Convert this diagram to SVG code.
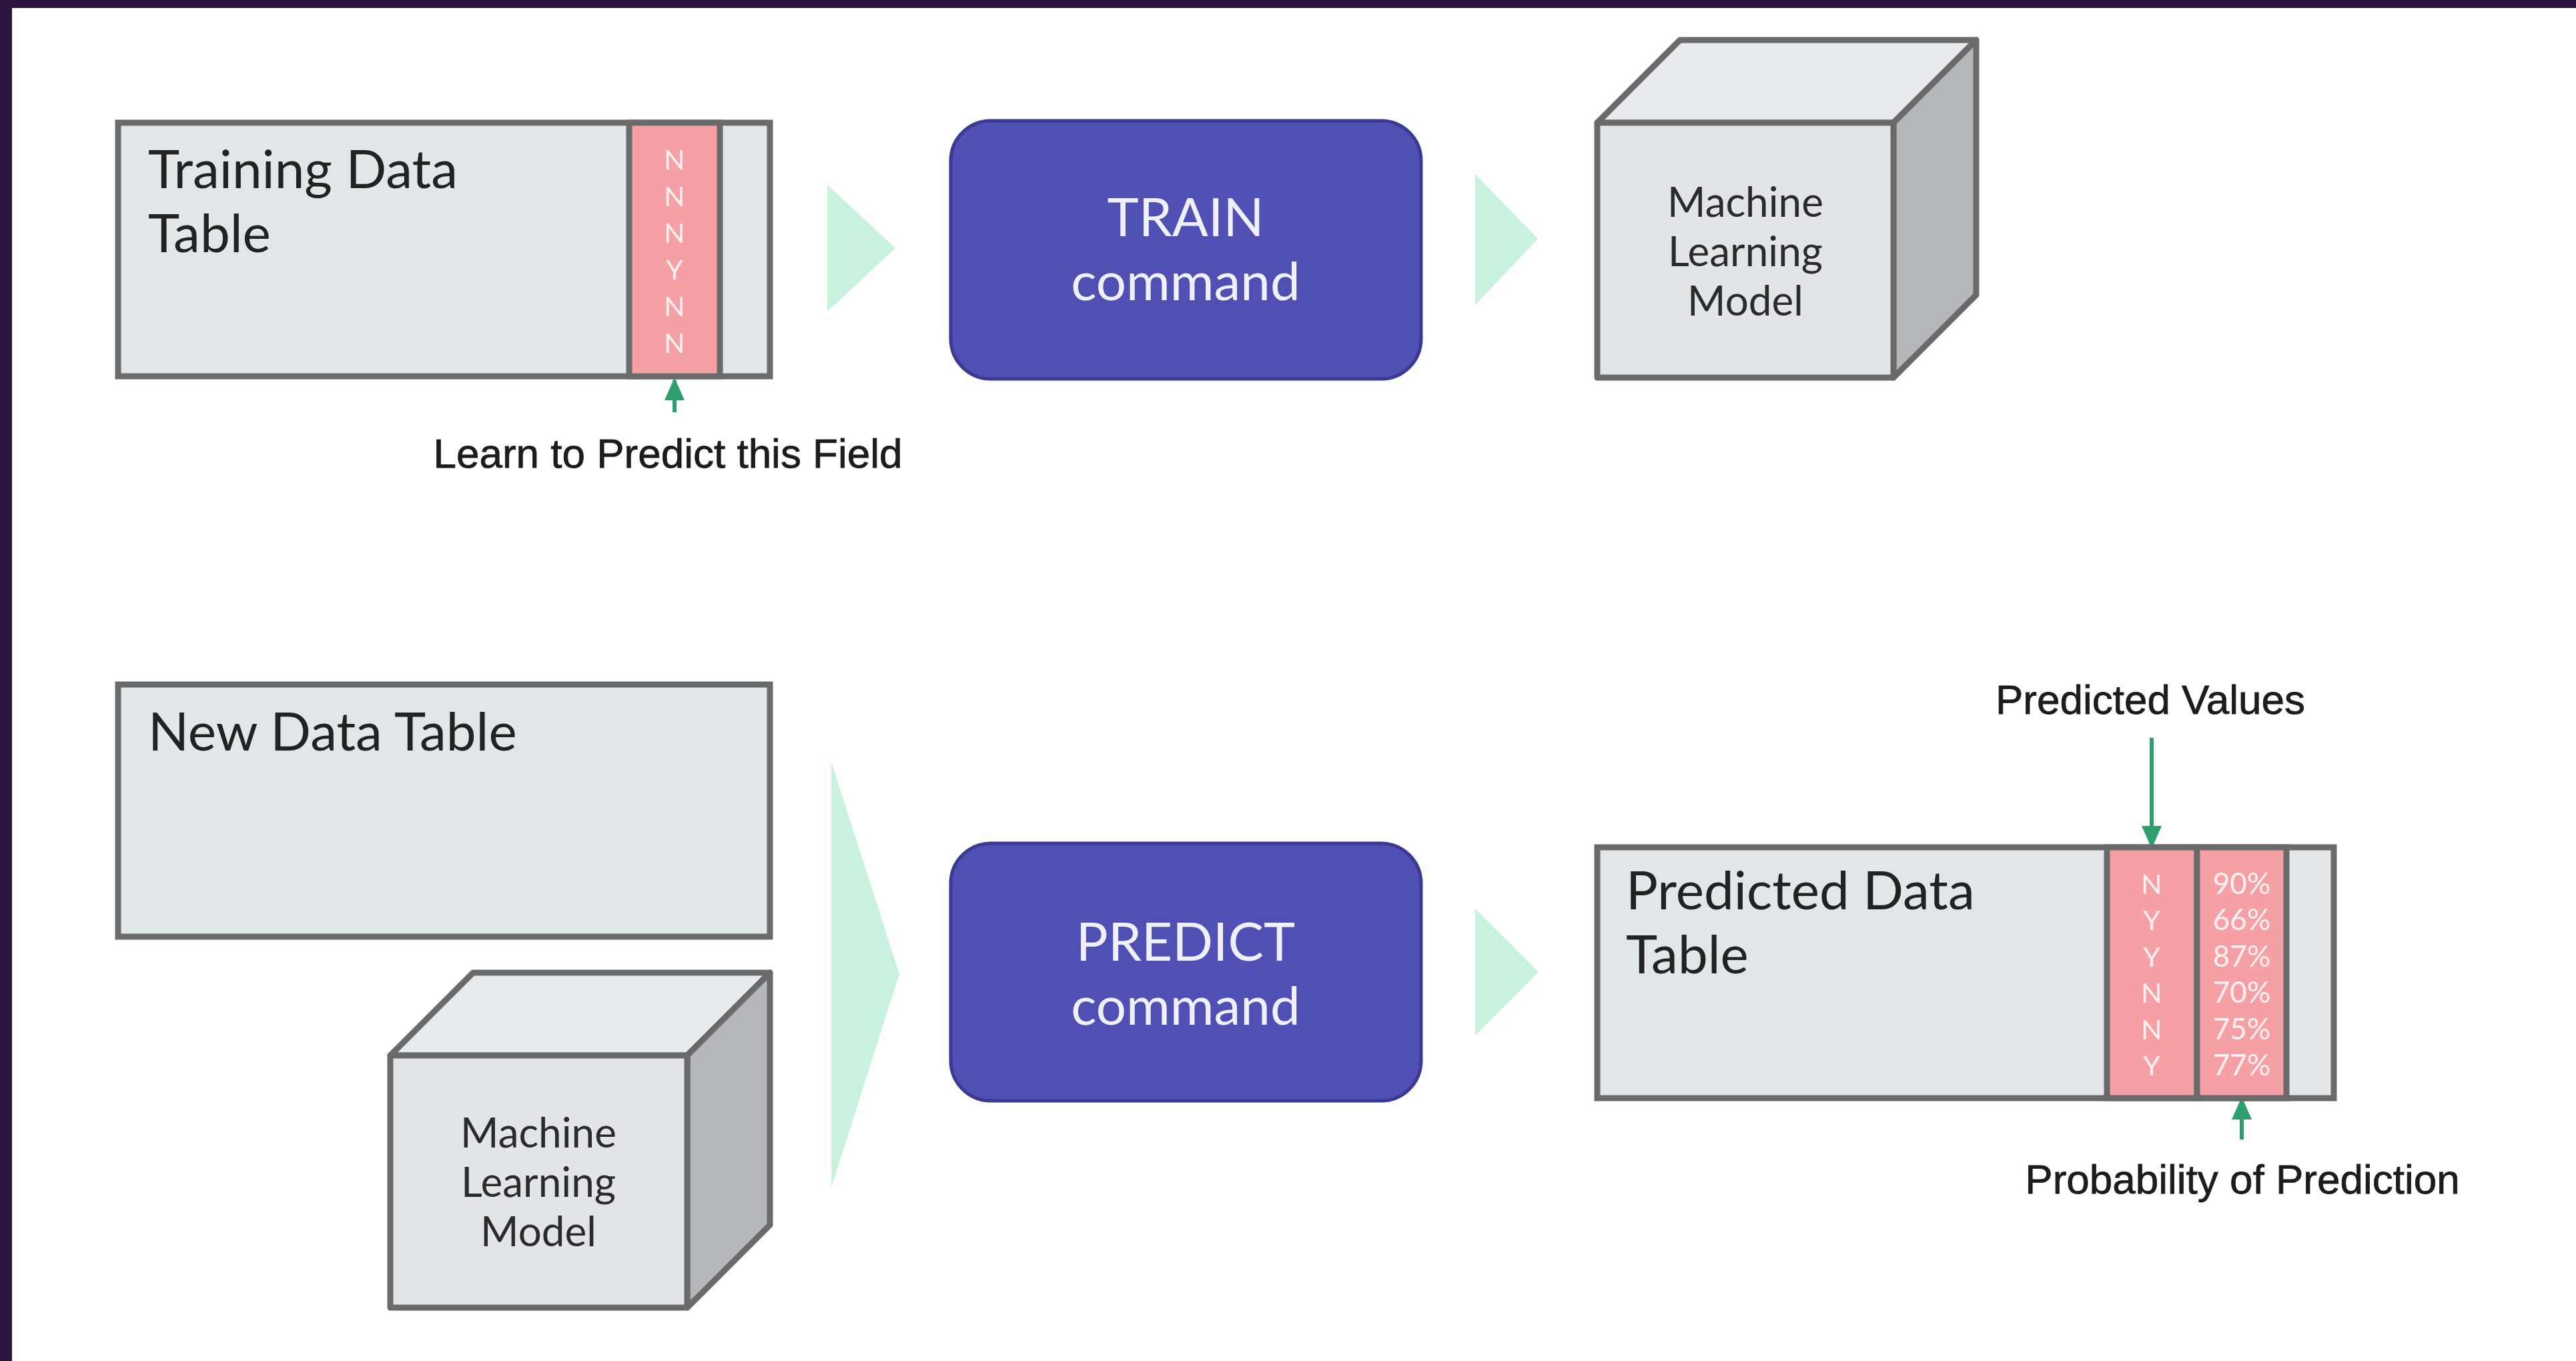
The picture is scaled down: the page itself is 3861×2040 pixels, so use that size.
<svg xmlns="http://www.w3.org/2000/svg" width="3861" height="2040" viewBox="0 0 3861 2040">
  <style>
    .tbl{fill:#e1e6e9;stroke:#6a6a6a;stroke-width:9}
    .col{fill:#f4a0a5;stroke:#6a6a6a;stroke-width:9}
    .title{font-family:Lato,"Noto Sans",sans-serif;font-size:80px;fill:#222}
    .cmd{fill:#4f4fb4;stroke:#3a3a92;stroke-width:5}
    .cmdtxt{font-family:Lato,"Noto Sans",sans-serif;font-size:80px;fill:#f0f0fa;text-anchor:middle}
    .cube{stroke:#6a6a6a;stroke-width:9;stroke-linejoin:round}
    .front{fill:#e1e5e8}
    .top{fill:#e8ebee}
    .side{fill:#b5b8bb}
    .mdl{font-family:Lato,"Noto Sans",sans-serif;font-size:62px;fill:#2b2b2b;text-anchor:middle}
    .cell{font-family:Lato,"Noto Sans",sans-serif;font-size:41px;fill:#ffffff;fill-opacity:.85;text-anchor:middle}
    .pct{font-size:44px}
    .flow{fill:#c8f2de}
    .note{font-family:"Liberation Sans",Arial,sans-serif;font-size:62px;fill:#1c1c1c;stroke:#1c1c1c;stroke-width:0.8;text-anchor:middle}
    .pointer{stroke:#2e9e6c;stroke-width:6;fill:none}
  </style>
  <defs>
    <marker id="head" markerUnits="userSpaceOnUse" markerWidth="34" markerHeight="30" viewBox="0 0 34 30" refX="30" refY="15" orient="auto">
      <path d="M0,0 L34,15 L0,30 Z" fill="#2e9e6c"/>
    </marker>
  </defs>

  <!-- page frame -->
  <rect x="0" y="0" width="3861" height="2040" fill="#ffffff"/>
  <rect x="0" y="0" width="3861" height="12" fill="#2d1440"/>
  <rect x="0" y="0" width="18" height="2040" fill="#2d1440"/>

  <!-- flow chevrons and pointer arrows -->
  <g id="connectors">
    <polygon class="flow" points="1240,277 1240,467 1342,372"/>
    <polygon class="flow" points="2211,261 2211,457 2305,358"/>
    <polygon class="flow" points="1246,1142 1246,1780 1348,1460"/>
    <polygon class="flow" points="2211,1362 2211,1552 2306,1457"/>
    <line class="pointer" x1="1011" y1="618" x2="1011" y2="570" marker-end="url(#head)"/>
    <line class="pointer" x1="3225" y1="1106" x2="3225" y2="1268" marker-end="url(#head)"/>
    <line class="pointer" x1="3360" y1="1708" x2="3360" y2="1648" marker-end="url(#head)"/>
  </g>

  <!-- training data table -->
  <g id="training-table">
    <rect class="tbl" x="177" y="184" width="977" height="380"/>
    <rect class="col" x="943" y="184" width="136" height="380"/>
    <text class="title" x="222" y="282">Training Data</text>
    <text class="title" x="222" y="378">Table</text>
    <text class="cell" x="1011" y="254">N</text>
    <text class="cell" x="1011" y="309">N</text>
    <text class="cell" x="1011" y="364">N</text>
    <text class="cell" x="1011" y="419">Y</text>
    <text class="cell" x="1011" y="474">N</text>
    <text class="cell" x="1011" y="529">N</text>
  </g>
  <g id="label-learn">
    <text class="note" x="1001" y="701">Learn to Predict this Field</text>
  </g>

  <!-- train command -->
  <g id="train-command">
    <rect class="cmd" x="1425" y="181" width="705" height="387" rx="60" ry="60"/>
    <text class="cmdtxt" x="1777" y="354">TRAIN</text>
    <text class="cmdtxt" x="1777" y="450">command</text>
  </g>

  <!-- trained model -->
  <g id="model-trained">
    <polygon class="cube top" points="2394,184 2518,60 2962,60 2838,184"/>
    <polygon class="cube side" points="2838,184 2962,60 2962,442 2838,566"/>
    <rect class="cube front" x="2394" y="184" width="444" height="382"/>
    <text class="mdl" x="2616" y="325">Machine</text>
    <text class="mdl" x="2616" y="399">Learning</text>
    <text class="mdl" x="2616" y="473">Model</text>
  </g>

  <!-- new data table -->
  <g id="new-table">
    <rect class="tbl" x="177" y="1026" width="977" height="378"/>
    <text class="title" x="222" y="1125">New Data Table</text>
  </g>

  <!-- model used for prediction -->
  <g id="model-input">
    <polygon class="cube top" points="585,1582 709,1458 1154,1458 1030,1582"/>
    <polygon class="cube side" points="1030,1582 1154,1458 1154,1836 1030,1960"/>
    <rect class="cube front" x="585" y="1582" width="445" height="378"/>
    <text class="mdl" x="807" y="1720">Machine</text>
    <text class="mdl" x="807" y="1794">Learning</text>
    <text class="mdl" x="807" y="1868">Model</text>
  </g>

  <!-- predict command -->
  <g id="predict-command">
    <rect class="cmd" x="1425" y="1264" width="705" height="386" rx="60" ry="60"/>
    <text class="cmdtxt" x="1777" y="1440">PREDICT</text>
    <text class="cmdtxt" x="1777" y="1536">command</text>
  </g>

  <!-- predicted data table -->
  <g id="predicted-table">
    <rect class="tbl" x="2394" y="1270" width="1104" height="376"/>
    <rect class="col" x="3158" y="1270" width="135" height="376"/>
    <rect class="col" x="3293" y="1270" width="134" height="376"/>
    <text class="title" x="2437" y="1363">Predicted Data</text>
    <text class="title" x="2437" y="1459">Table</text>
    <text class="cell" x="3225" y="1340">N</text>
    <text class="cell" x="3225" y="1394">Y</text>
    <text class="cell" x="3225" y="1449">Y</text>
    <text class="cell" x="3225" y="1503">N</text>
    <text class="cell" x="3225" y="1558">N</text>
    <text class="cell" x="3225" y="1612">Y</text>
    <text class="cell pct" x="3360" y="1340">90%</text>
    <text class="cell pct" x="3360" y="1394">66%</text>
    <text class="cell pct" x="3360" y="1449">87%</text>
    <text class="cell pct" x="3360" y="1503">70%</text>
    <text class="cell pct" x="3360" y="1558">75%</text>
    <text class="cell pct" x="3360" y="1612">77%</text>
  </g>
  <g id="label-values">
    <text class="note" x="3223" y="1070">Predicted Values</text>
  </g>
  <g id="label-probability">
    <text class="note" x="3361" y="1789">Probability of Prediction</text>
  </g>
</svg>
